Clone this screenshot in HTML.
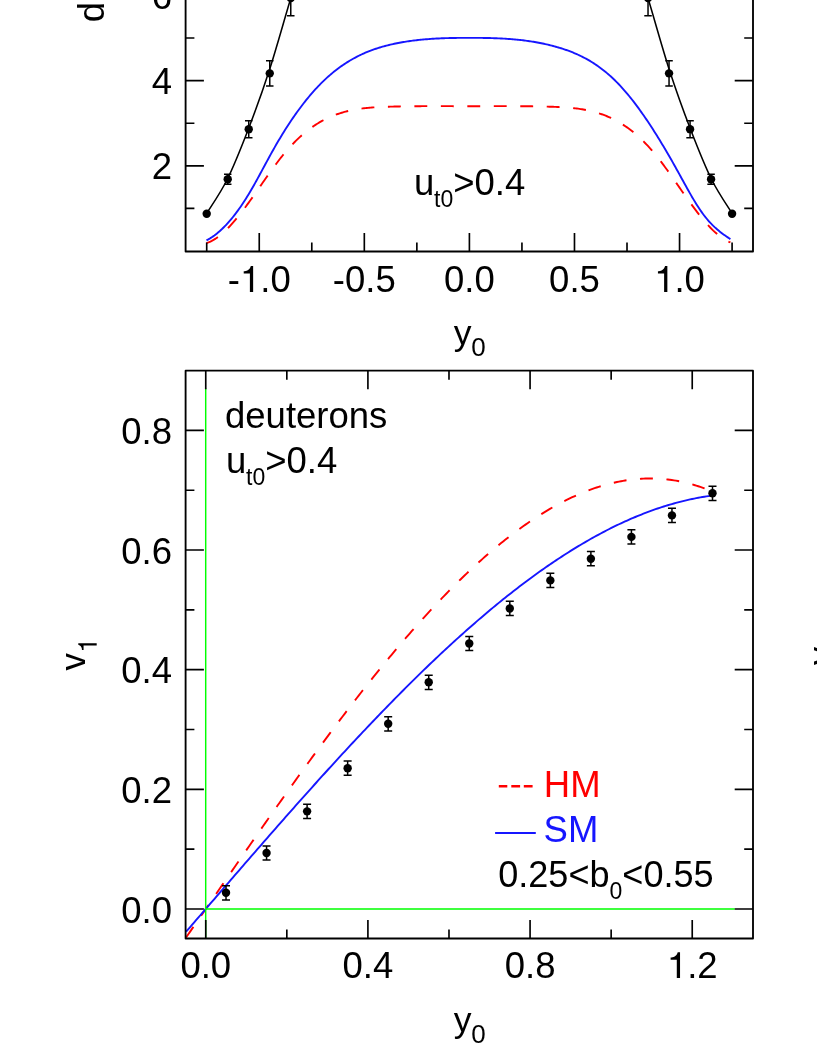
<!DOCTYPE html>
<html><head><meta charset="utf-8"><title>chart</title>
<style>html,body{margin:0;padding:0;background:#fff;overflow:hidden}svg{display:block;will-change:transform}text{font-family:"Liberation Sans",sans-serif;fill:#000}</style></head><body>
<svg width="817" height="1058" viewBox="0 0 817 1058">
<rect width="817" height="1058" fill="#fff"/>
<!-- top chart: model curves -->
<path d="M206.50,240.40 L207.81,239.70 L209.13,238.94 L210.44,238.14 L211.75,237.29 L213.07,236.39 L214.38,235.45 L215.69,234.45 L217.00,233.41 L218.32,232.32 L219.63,231.19 L220.94,230.01 L222.26,228.78 L223.57,227.50 L224.88,226.18 L226.20,224.81 L227.51,223.39 L228.82,221.93 L230.13,220.42 L231.45,218.86 L232.76,217.26 L234.07,215.61 L235.39,213.92 L236.70,212.18 L238.01,210.39 L239.33,208.56 L240.64,206.68 L241.95,204.75 L243.26,202.78 L244.58,200.77 L245.89,198.71 L247.20,196.60 L248.52,194.45 L249.83,192.25 L251.14,190.01 L252.46,187.74 L253.77,185.43 L255.08,183.10 L256.40,180.73 L257.71,178.35 L259.02,175.95 L260.33,173.53 L261.65,171.10 L262.96,168.67 L264.27,166.23 L265.59,163.80 L266.90,161.37 L268.21,158.95 L269.53,156.54 L270.84,154.15 L272.15,151.79 L273.46,149.44 L274.78,147.12 L276.09,144.84 L277.40,142.58 L278.72,140.34 L280.03,138.14 L281.34,135.96 L282.66,133.82 L283.97,131.70 L285.28,129.61 L286.59,127.54 L287.91,125.51 L289.22,123.50 L290.53,121.52 L291.85,119.57 L293.16,117.65 L294.47,115.75 L295.79,113.89 L297.10,112.05 L298.41,110.24 L299.73,108.45 L301.04,106.70 L302.35,104.97 L303.66,103.27 L304.98,101.60 L306.29,99.95 L307.60,98.34 L308.92,96.75 L310.23,95.19 L311.54,93.66 L312.86,92.15 L314.17,90.67 L315.48,89.23 L316.79,87.80 L318.11,86.41 L319.42,85.04 L320.73,83.70 L322.05,82.39 L323.36,81.11 L324.67,79.85 L325.99,78.62 L327.30,77.42 L328.61,76.25 L329.93,75.10 L331.24,73.97 L332.55,72.88 L333.86,71.80 L335.18,70.76 L336.49,69.73 L337.80,68.73 L339.12,67.76 L340.43,66.81 L341.74,65.88 L343.06,64.97 L344.37,64.09 L345.68,63.23 L346.99,62.39 L348.31,61.57 L349.62,60.77 L350.93,60.00 L352.25,59.24 L353.56,58.50 L354.87,57.79 L356.19,57.09 L357.50,56.41 L358.81,55.75 L360.12,55.11 L361.44,54.49 L362.75,53.89 L364.06,53.30 L365.38,52.73 L366.69,52.17 L368.00,51.64 L369.32,51.12 L370.63,50.61 L371.94,50.12 L373.26,49.64 L374.57,49.18 L375.88,48.74 L377.19,48.30 L378.51,47.88 L379.82,47.48 L381.13,47.08 L382.45,46.70 L383.76,46.34 L385.07,45.98 L386.39,45.63 L387.70,45.30 L389.01,44.98 L390.32,44.67 L391.64,44.36 L392.95,44.07 L394.26,43.79 L395.58,43.52 L396.89,43.25 L398.20,42.99 L399.52,42.75 L400.83,42.51 L402.14,42.27 L403.45,42.05 L404.77,41.83 L406.08,41.62 L407.39,41.42 L408.71,41.23 L410.02,41.04 L411.33,40.86 L412.65,40.68 L413.96,40.52 L415.27,40.35 L416.59,40.20 L417.90,40.05 L419.21,39.91 L420.52,39.77 L421.84,39.64 L423.15,39.52 L424.46,39.40 L425.78,39.29 L427.09,39.18 L428.40,39.08 L429.72,38.98 L431.03,38.89 L432.34,38.80 L433.65,38.72 L434.97,38.64 L436.28,38.57 L437.59,38.50 L438.91,38.44 L440.22,38.38 L441.53,38.32 L442.85,38.27 L444.16,38.22 L445.47,38.17 L446.78,38.13 L448.10,38.09 L449.41,38.06 L450.72,38.03 L452.04,38.00 L453.35,37.97 L454.66,37.95 L455.98,37.93 L457.29,37.91 L458.60,37.89 L459.92,37.88 L461.23,37.87 L462.54,37.86 L463.85,37.85 L465.17,37.85 L466.48,37.84 L467.79,37.84 L469.11,37.84 L470.42,37.84 L471.73,37.84 L473.05,37.84 L474.36,37.84 L475.67,37.85 L476.98,37.86 L478.30,37.87 L479.61,37.88 L480.92,37.89 L482.24,37.91 L483.55,37.93 L484.86,37.95 L486.18,37.97 L487.49,38.00 L488.80,38.03 L490.12,38.06 L491.43,38.10 L492.74,38.14 L494.05,38.18 L495.37,38.23 L496.68,38.28 L497.99,38.33 L499.31,38.39 L500.62,38.46 L501.93,38.52 L503.25,38.60 L504.56,38.67 L505.87,38.76 L507.18,38.84 L508.50,38.93 L509.81,39.03 L511.12,39.13 L512.44,39.24 L513.75,39.35 L515.06,39.47 L516.38,39.60 L517.69,39.73 L519.00,39.86 L520.31,40.01 L521.63,40.16 L522.94,40.31 L524.25,40.47 L525.57,40.64 L526.88,40.82 L528.19,41.00 L529.51,41.19 L530.82,41.39 L532.13,41.60 L533.45,41.81 L534.76,42.03 L536.07,42.26 L537.38,42.50 L538.70,42.74 L540.01,42.99 L541.32,43.26 L542.64,43.53 L543.95,43.80 L545.26,44.09 L546.58,44.39 L547.89,44.69 L549.20,45.01 L550.51,45.33 L551.83,45.67 L553.14,46.01 L554.45,46.36 L555.77,46.72 L557.08,47.10 L558.39,47.48 L559.71,47.87 L561.02,48.28 L562.33,48.69 L563.64,49.12 L564.96,49.56 L566.27,50.01 L567.58,50.48 L568.90,50.96 L570.21,51.46 L571.52,51.97 L572.84,52.49 L574.15,53.03 L575.46,53.59 L576.78,54.16 L578.09,54.76 L579.40,55.37 L580.71,55.99 L582.03,56.64 L583.34,57.30 L584.65,57.99 L585.97,58.69 L587.28,59.42 L588.59,60.17 L589.91,60.94 L591.22,61.73 L592.53,62.54 L593.84,63.38 L595.16,64.24 L596.47,65.12 L597.78,66.03 L599.10,66.96 L600.41,67.92 L601.72,68.91 L603.04,69.92 L604.35,70.95 L605.66,72.02 L606.97,73.11 L608.29,74.23 L609.60,75.38 L610.91,76.56 L612.23,77.77 L613.54,79.01 L614.85,80.28 L616.17,81.58 L617.48,82.92 L618.79,84.28 L620.11,85.68 L621.42,87.10 L622.73,88.55 L624.04,90.04 L625.36,91.55 L626.67,93.09 L627.98,94.66 L629.30,96.26 L630.61,97.88 L631.92,99.53 L633.24,101.21 L634.55,102.92 L635.86,104.65 L637.17,106.41 L638.49,108.19 L639.80,109.99 L641.11,111.83 L642.43,113.68 L643.74,115.56 L645.05,117.46 L646.37,119.39 L647.68,121.34 L648.99,123.31 L650.31,125.30 L651.62,127.31 L652.93,129.35 L654.24,131.40 L655.56,133.48 L656.87,135.58 L658.18,137.69 L659.50,139.83 L660.81,141.98 L662.12,144.15 L663.44,146.34 L664.75,148.55 L666.06,150.78 L667.37,153.02 L668.69,155.28 L670.00,157.55 L671.31,159.84 L672.63,162.15 L673.94,164.47 L675.25,166.81 L676.57,169.16 L677.88,171.52 L679.19,173.90 L680.50,176.29 L681.82,178.68 L683.13,181.07 L684.44,183.45 L685.76,185.83 L687.07,188.19 L688.38,190.53 L689.70,192.85 L691.01,195.14 L692.32,197.40 L693.64,199.62 L694.95,201.80 L696.26,203.93 L697.57,206.01 L698.89,208.03 L700.20,209.99 L701.51,211.89 L702.83,213.72 L704.14,215.47 L705.45,217.15 L706.77,218.76 L708.08,220.30 L709.39,221.78 L710.70,223.20 L712.02,224.56 L713.33,225.87 L714.64,227.12 L715.96,228.32 L717.27,229.48 L718.58,230.59 L719.90,231.66 L721.21,232.70 L722.52,233.70 L723.83,234.66 L725.15,235.60 L726.46,236.51 L727.77,237.40 L729.09,238.27 L730.40,239.12" fill="none" stroke="#1616ff" stroke-width="1.90" stroke-linejoin="round"/>
<path d="M206.50,243.08 L207.81,242.64 L209.13,242.12 L210.44,241.54 L211.75,240.90 L213.07,240.19 L214.38,239.41 L215.69,238.58 L217.00,237.68 L218.32,236.73 L219.63,235.72 L220.94,234.66 L222.26,233.55 L223.57,232.38 L224.88,231.16 L226.20,229.90 L227.51,228.59 L228.82,227.24 L230.13,225.85 L231.45,224.41 L232.76,222.94 L234.07,221.43 L235.39,219.89 L236.70,218.31 L238.01,216.70 L239.33,215.06 L240.64,213.39 L241.95,211.69 L243.26,209.97 L244.58,208.23 L245.89,206.46 L247.20,204.67 L248.52,202.87 L249.83,201.05 L251.14,199.22 L252.46,197.37 L253.77,195.51 L255.08,193.64 L256.40,191.77 L257.71,189.88 L259.02,188.00 L260.33,186.11 L261.65,184.22 L262.96,182.33 L264.27,180.45 L265.59,178.57 L266.90,176.69 L268.21,174.83 L269.53,172.98 L270.84,171.14 L272.15,169.31 L273.46,167.50 L274.78,165.71 L276.09,163.95 L277.40,162.20 L278.72,160.48 L280.03,158.78 L281.34,157.11 L282.66,155.48 L283.97,153.87 L285.28,152.30 L286.59,150.76 L287.91,149.26 L289.22,147.79 L290.53,146.35 L291.85,144.94 L293.16,143.56 L294.47,142.22 L295.79,140.91 L297.10,139.63 L298.41,138.38 L299.73,137.16 L301.04,135.97 L302.35,134.81 L303.66,133.68 L304.98,132.59 L306.29,131.52 L307.60,130.48 L308.92,129.47 L310.23,128.49 L311.54,127.54 L312.86,126.62 L314.17,125.73 L315.48,124.86 L316.79,124.03 L318.11,123.22 L319.42,122.43 L320.73,121.67 L322.05,120.94 L323.36,120.23 L324.67,119.55 L325.99,118.89 L327.30,118.26 L328.61,117.65 L329.93,117.06 L331.24,116.49 L332.55,115.95 L333.86,115.43 L335.18,114.93 L336.49,114.44 L337.80,113.98 L339.12,113.54 L340.43,113.12 L341.74,112.72 L343.06,112.33 L344.37,111.96 L345.68,111.61 L346.99,111.28 L348.31,110.96 L349.62,110.66 L350.93,110.37 L352.25,110.10 L353.56,109.85 L354.87,109.60 L356.19,109.38 L357.50,109.16 L358.81,108.96 L360.12,108.77 L361.44,108.59 L362.75,108.42 L364.06,108.26 L365.38,108.11 L366.69,107.98 L368.00,107.85 L369.32,107.73 L370.63,107.62 L371.94,107.52 L373.26,107.42 L374.57,107.33 L375.88,107.25 L377.19,107.18 L378.51,107.11 L379.82,107.04 L381.13,106.99 L382.45,106.93 L383.76,106.88 L385.07,106.83 L386.39,106.79 L387.70,106.74 L389.01,106.70 L390.32,106.66 L391.64,106.63 L392.95,106.59 L394.26,106.56 L395.58,106.53 L396.89,106.49 L398.20,106.47 L399.52,106.44 L400.83,106.41 L402.14,106.39 L403.45,106.37 L404.77,106.34 L406.08,106.32 L407.39,106.30 L408.71,106.29 L410.02,106.27 L411.33,106.26 L412.65,106.24 L413.96,106.23 L415.27,106.22 L416.59,106.21 L417.90,106.20 L419.21,106.19 L420.52,106.18 L421.84,106.17 L423.15,106.17 L424.46,106.16 L425.78,106.16 L427.09,106.15 L428.40,106.15 L429.72,106.15 L431.03,106.15 L432.34,106.15 L433.65,106.14 L434.97,106.14 L436.28,106.14 L437.59,106.15 L438.91,106.15 L440.22,106.15 L441.53,106.15 L442.85,106.15 L444.16,106.16 L445.47,106.16 L446.78,106.16 L448.10,106.16 L449.41,106.17 L450.72,106.17 L452.04,106.17 L453.35,106.18 L454.66,106.18 L455.98,106.18 L457.29,106.19 L458.60,106.19 L459.92,106.19 L461.23,106.20 L462.54,106.20 L463.85,106.20 L465.17,106.20 L466.48,106.20 L467.79,106.20 L469.11,106.20 L470.42,106.20 L471.73,106.20 L473.05,106.20 L474.36,106.20 L475.67,106.20 L476.98,106.20 L478.30,106.19 L479.61,106.19 L480.92,106.19 L482.24,106.19 L483.55,106.18 L484.86,106.18 L486.18,106.18 L487.49,106.17 L488.80,106.17 L490.12,106.17 L491.43,106.16 L492.74,106.16 L494.05,106.16 L495.37,106.15 L496.68,106.15 L497.99,106.15 L499.31,106.15 L500.62,106.15 L501.93,106.15 L503.25,106.14 L504.56,106.14 L505.87,106.14 L507.18,106.15 L508.50,106.15 L509.81,106.15 L511.12,106.15 L512.44,106.16 L513.75,106.16 L515.06,106.16 L516.38,106.17 L517.69,106.18 L519.00,106.18 L520.31,106.19 L521.63,106.20 L522.94,106.21 L524.25,106.22 L525.57,106.24 L526.88,106.25 L528.19,106.26 L529.51,106.28 L530.82,106.30 L532.13,106.32 L533.45,106.33 L534.76,106.36 L536.07,106.38 L537.38,106.40 L538.70,106.43 L540.01,106.45 L541.32,106.48 L542.64,106.51 L543.95,106.54 L545.26,106.58 L546.58,106.61 L547.89,106.65 L549.20,106.68 L550.51,106.72 L551.83,106.77 L553.14,106.81 L554.45,106.86 L555.77,106.91 L557.08,106.96 L558.39,107.02 L559.71,107.08 L561.02,107.15 L562.33,107.22 L563.64,107.30 L564.96,107.38 L566.27,107.47 L567.58,107.57 L568.90,107.68 L570.21,107.79 L571.52,107.92 L572.84,108.05 L574.15,108.19 L575.46,108.35 L576.78,108.51 L578.09,108.68 L579.40,108.87 L580.71,109.07 L582.03,109.28 L583.34,109.50 L584.65,109.74 L585.97,109.99 L587.28,110.25 L588.59,110.53 L589.91,110.83 L591.22,111.14 L592.53,111.46 L593.84,111.80 L595.16,112.16 L596.47,112.54 L597.78,112.94 L599.10,113.35 L600.41,113.78 L601.72,114.24 L603.04,114.71 L604.35,115.20 L605.66,115.71 L606.97,116.25 L608.29,116.80 L609.60,117.38 L610.91,117.98 L612.23,118.61 L613.54,119.26 L614.85,119.93 L616.17,120.62 L617.48,121.34 L618.79,122.09 L620.11,122.86 L621.42,123.66 L622.73,124.49 L624.04,125.34 L625.36,126.22 L626.67,127.13 L627.98,128.07 L629.30,129.03 L630.61,130.03 L631.92,131.05 L633.24,132.11 L634.55,133.19 L635.86,134.30 L637.17,135.45 L638.49,136.62 L639.80,137.83 L641.11,139.06 L642.43,140.33 L643.74,141.63 L645.05,142.96 L646.37,144.32 L647.68,145.71 L648.99,147.14 L650.31,148.60 L651.62,150.09 L652.93,151.61 L654.24,153.17 L655.56,154.76 L656.87,156.38 L658.18,158.03 L659.50,159.72 L660.81,161.43 L662.12,163.16 L663.44,164.92 L664.75,166.70 L666.06,168.50 L667.37,170.32 L668.69,172.15 L670.00,174.00 L671.31,175.86 L672.63,177.73 L673.94,179.61 L675.25,181.49 L676.57,183.38 L677.88,185.27 L679.19,187.15 L680.50,189.04 L681.82,190.93 L683.13,192.80 L684.44,194.68 L685.76,196.54 L687.07,198.39 L688.38,200.23 L689.70,202.06 L691.01,203.87 L692.32,205.66 L693.64,207.44 L694.95,209.19 L696.26,210.92 L697.57,212.63 L698.89,214.31 L700.20,215.97 L701.51,217.59 L702.83,219.18 L704.14,220.75 L705.45,222.27 L706.77,223.76 L708.08,225.21 L709.39,226.62 L710.70,228.00 L712.02,229.32 L713.33,230.61 L714.64,231.84 L715.96,233.03 L717.27,234.17 L718.58,235.25 L719.90,236.29 L721.21,237.26 L722.52,238.18 L723.83,239.05 L725.15,239.85 L726.46,240.59 L727.77,241.26 L729.09,241.87 L730.40,242.42" fill="none" stroke="#ff0000" stroke-width="1.90" stroke-dasharray="12.9,13.57" stroke-linejoin="round"/>
<!-- top chart: frame and ticks -->
<g stroke="#000" fill="none">
<path d="M185.60,-5 V251.50 H753.00 V-5" stroke-width="1.85" stroke-linejoin="round"/>
<path d="M206.71,251.50 v-9.10 M259.25,251.50 v-18.60 M311.79,251.50 v-9.10 M364.32,251.50 v-18.60 M416.86,251.50 v-9.10 M469.40,251.50 v-18.60 M521.94,251.50 v-9.10 M574.48,251.50 v-18.60 M627.01,251.50 v-9.10 M679.55,251.50 v-18.60 M732.09,251.50 v-9.10 M185.60,208.40 h8.80 M753.00,208.40 h-8.80 M185.60,165.80 h18.30 M753.00,165.80 h-18.30 M185.60,123.20 h8.80 M753.00,123.20 h-8.80 M185.60,80.60 h18.30 M753.00,80.60 h-18.30 M185.60,38.00 h8.80 M753.00,38.00 h-8.80 M185.60,-4.60 h18.30 M753.00,-4.60 h-18.30 " stroke-width="1.65"/>
</g>
<!-- top chart: data -->
<g stroke="#000" fill="none">
<path d="M206.40,213.80 C209.87,208.08 220.20,193.63 227.20,179.50 C234.20,165.37 241.35,147.30 248.40,129.00 C255.45,110.70 262.46,91.43 269.50,69.70 C276.54,47.97 283.63,21.88 290.66,-1.40 C297.69,-24.68 308.19,-58.57 311.70,-70.00" stroke-width="1.55"/>
<path d="M732.40,213.80 C728.93,208.08 718.60,193.63 711.60,179.50 C704.60,165.37 697.45,147.30 690.40,129.00 C683.35,110.70 676.34,91.43 669.30,69.70 C662.26,47.97 655.17,21.88 648.14,-1.40 C641.11,-24.68 630.61,-58.57 627.10,-70.00" stroke-width="1.55"/>
<path d="M227.73,184.20 V174.23 M223.98,184.20 h7.5 M223.98,174.23 h7.5 M711.07,184.20 V174.23 M707.32,184.20 h7.5 M707.32,174.23 h7.5 M248.74,137.68 V120.64 M244.99,137.68 h7.5 M244.99,120.64 h7.5 M690.06,137.68 V120.64 M686.31,137.68 h7.5 M686.31,120.64 h7.5 M269.76,85.97 V60.75 M266.01,85.97 h7.5 M266.01,60.75 h7.5 M669.04,85.97 V60.75 M665.29,85.97 h7.5 M665.29,60.75 h7.5 M290.77,15.85 V-19.94 M287.02,15.85 h7.5 M287.02,-19.94 h7.5 M648.03,15.85 V-19.94 M644.28,15.85 h7.5 M644.28,-19.94 h7.5 M311.79,-51.46 V-85.54 M308.04,-51.46 h7.5 M308.04,-85.54 h7.5 M627.01,-51.46 V-85.54 M623.26,-51.46 h7.5 M623.26,-85.54 h7.5 " stroke-width="1.5"/>
</g>
<g fill="#000">
<circle cx="206.71" cy="213.72" r="4.2"/>
<circle cx="732.09" cy="213.72" r="4.2"/>
<circle cx="227.73" cy="179.22" r="4.2"/>
<circle cx="711.07" cy="179.22" r="4.2"/>
<circle cx="248.74" cy="129.16" r="4.2"/>
<circle cx="690.06" cy="129.16" r="4.2"/>
<circle cx="269.76" cy="73.36" r="4.2"/>
<circle cx="669.04" cy="73.36" r="4.2"/>
<circle cx="290.77" cy="-2.04" r="4.2"/>
<circle cx="648.03" cy="-2.04" r="4.2"/>
<circle cx="311.79" cy="-68.50" r="4.2"/>
<circle cx="627.01" cy="-68.50" r="4.2"/>
</g>
<!-- top chart: labels -->
<g font-size="36.5">
<text x="227.81" y="291.90" font-size="36.5">-</text>
<path d="M253.14,291.90 L249.89,291.90 L249.89,273.47 L243.72,273.47 L243.72,271.24 C246.35,271.17 249.52,270.36 250.84,266.02 L253.14,266.02 Z" fill="#000"/>
<text x="260.25" y="291.90" font-size="36.5">.0</text>
<text x="364.32" y="291.9" text-anchor="middle">-0.5</text>
<text x="469.40" y="291.9" text-anchor="middle">0.0</text>
<text x="574.48" y="291.9" text-anchor="middle">0.5</text>
<path d="M667.36,291.90 L664.11,291.90 L664.11,273.47 L657.94,273.47 L657.94,271.24 C660.57,271.17 663.75,270.36 665.06,266.02 L667.36,266.02 Z" fill="#000"/>
<text x="674.48" y="291.90" font-size="36.5">.0</text>
<text x="172" y="179.00" text-anchor="end">2</text>
<text x="172" y="93.80" text-anchor="end">4</text>
<text x="172" y="8.60" text-anchor="end">6</text>
<text y="194.7"><tspan x="414.0">u</tspan><tspan font-size="23.0" x="434.0" dy="11.9">t0</tspan><tspan x="453.2" dy="-11.9">&gt;0.4</tspan></text>
<text y="344.5" font-size="35.5"><tspan x="453.7">y</tspan><tspan x="471.3" font-size="26" dy="11.5">0</tspan></text>
<text transform="translate(103.5,22.3) rotate(-90)" x="0" y="0">d</text>
</g>
<!-- bottom chart: model curves  v1 = a*y0 + b*y0^3 -->
<path d="M186.09,937.49 L188.12,934.54 L190.15,931.59 L192.19,928.64 L194.22,925.70 L196.25,922.74 L198.28,919.79 L200.32,916.84 L202.35,913.89 L204.38,910.94 L206.41,907.99 L208.45,905.04 L210.48,902.08 L212.51,899.13 L214.54,896.18 L216.58,893.23 L218.61,890.28 L220.64,887.33 L222.67,884.38 L224.71,881.44 L226.74,878.49 L228.77,875.55 L230.80,872.60 L232.84,869.66 L234.87,866.72 L236.90,863.78 L238.93,860.85 L240.97,857.91 L243.00,854.98 L245.03,852.05 L247.06,849.12 L249.09,846.20 L251.13,843.27 L253.16,840.35 L255.19,837.44 L257.22,834.52 L259.26,831.61 L261.29,828.70 L263.32,825.80 L265.35,822.90 L267.39,820.00 L269.42,817.11 L271.45,814.22 L273.48,811.33 L275.52,808.45 L277.55,805.57 L279.58,802.70 L281.61,799.83 L283.65,796.97 L285.68,794.11 L287.71,791.26 L289.74,788.41 L291.78,785.56 L293.81,782.73 L295.84,779.89 L297.87,777.06 L299.91,774.24 L301.94,771.42 L303.97,768.61 L306.00,765.81 L308.04,763.01 L310.07,760.22 L312.10,757.43 L314.13,754.65 L316.17,751.88 L318.20,749.11 L320.23,746.35 L322.26,743.60 L324.30,740.85 L326.33,738.12 L328.36,735.38 L330.39,732.66 L332.43,729.94 L334.46,727.24 L336.49,724.54 L338.52,721.84 L340.56,719.16 L342.59,716.48 L344.62,713.81 L346.65,711.15 L348.69,708.50 L350.72,705.86 L352.75,703.23 L354.78,700.60 L356.82,697.99 L358.85,695.38 L360.88,692.78 L362.91,690.19 L364.95,687.62 L366.98,685.05 L369.01,682.49 L371.04,679.94 L373.08,677.40 L375.11,674.87 L377.14,672.35 L379.17,669.85 L381.21,667.35 L383.24,664.86 L385.27,662.39 L387.30,659.92 L389.34,657.47 L391.37,655.02 L393.40,652.59 L395.43,650.17 L397.47,647.76 L399.50,645.36 L401.53,642.98 L403.56,640.61 L405.60,638.24 L407.63,635.89 L409.66,633.56 L411.69,631.23 L413.73,628.92 L415.76,626.62 L417.79,624.33 L419.82,622.06 L421.86,619.80 L423.89,617.55 L425.92,615.32 L427.95,613.10 L429.99,610.89 L432.02,608.69 L434.05,606.51 L436.08,604.35 L438.12,602.19 L440.15,600.05 L442.18,597.93 L444.21,595.82 L446.25,593.73 L448.28,591.64 L450.31,589.58 L452.34,587.53 L454.38,585.49 L456.41,583.47 L458.44,581.46 L460.47,579.47 L462.51,577.50 L464.54,575.54 L466.57,573.59 L468.60,571.67 L470.64,569.75 L472.67,567.86 L474.70,565.98 L476.73,564.11 L478.76,562.27 L480.80,560.44 L482.83,558.62 L484.86,556.83 L486.89,555.05 L488.93,553.28 L490.96,551.54 L492.99,549.81 L495.02,548.10 L497.06,546.41 L499.09,544.73 L501.12,543.07 L503.15,541.43 L505.19,539.81 L507.22,538.21 L509.25,536.62 L511.28,535.05 L513.32,533.50 L515.35,531.98 L517.38,530.46 L519.41,528.97 L521.45,527.50 L523.48,526.05 L525.51,524.61 L527.54,523.20 L529.58,521.80 L531.61,520.42 L533.64,519.07 L535.67,517.73 L537.71,516.41 L539.74,515.12 L541.77,513.84 L543.80,512.59 L545.84,511.35 L547.87,510.14 L549.90,508.94 L551.93,507.77 L553.97,506.62 L556.00,505.49 L558.03,504.38 L560.06,503.29 L562.10,502.23 L564.13,501.18 L566.16,500.16 L568.19,499.16 L570.23,498.18 L572.26,497.22 L574.29,496.29 L576.32,495.38 L578.36,494.49 L580.39,493.62 L582.42,492.77 L584.45,491.95 L586.49,491.15 L588.52,490.38 L590.55,489.63 L592.58,488.90 L594.62,488.19 L596.65,487.51 L598.68,486.85 L600.71,486.22 L602.75,485.61 L604.78,485.02 L606.81,484.46 L608.84,483.92 L610.88,483.41 L612.91,482.92 L614.94,482.46 L616.97,482.02 L619.01,481.61 L621.04,481.22 L623.07,480.85 L625.10,480.51 L627.14,480.20 L629.17,479.91 L631.20,479.65 L633.23,479.42 L635.27,479.21 L637.30,479.02 L639.33,478.87 L641.36,478.74 L643.40,478.63 L645.43,478.55 L647.46,478.50 L649.49,478.48 L651.53,478.48 L653.56,478.51 L655.59,478.56 L657.62,478.65 L659.66,478.76 L661.69,478.90 L663.72,479.07 L665.75,479.26 L667.79,479.48 L669.82,479.73 L671.85,480.01 L673.88,480.32 L675.92,480.65 L677.95,481.02 L679.98,481.41 L682.01,481.83 L684.05,482.28 L686.08,482.76 L688.11,483.27 L690.14,483.81 L692.18,484.37 L694.21,484.97 L696.24,485.60 L698.27,486.25 L700.31,486.94 L702.34,487.65 L704.37,488.40 L706.40,489.18 L708.44,489.98 L710.47,490.82 L712.50,491.69" fill="none" stroke="#ff0000" stroke-width="1.90" stroke-dasharray="12.9,13.57"/>
<path d="M186.09,931.74 L188.12,929.38 L190.15,927.03 L192.19,924.67 L194.22,922.32 L196.25,919.96 L198.28,917.61 L200.32,915.25 L202.35,912.89 L204.38,910.54 L206.41,908.18 L208.45,905.83 L210.48,903.47 L212.51,901.11 L214.54,898.76 L216.58,896.40 L218.61,894.05 L220.64,891.69 L222.67,889.34 L224.71,886.98 L226.74,884.63 L228.77,882.28 L230.80,879.93 L232.84,877.58 L234.87,875.23 L236.90,872.88 L238.93,870.53 L240.97,868.18 L243.00,865.84 L245.03,863.49 L247.06,861.15 L249.09,858.81 L251.13,856.47 L253.16,854.13 L255.19,851.79 L257.22,849.45 L259.26,847.12 L261.29,844.79 L263.32,842.46 L265.35,840.13 L267.39,837.80 L269.42,835.48 L271.45,833.16 L273.48,830.84 L275.52,828.52 L277.55,826.20 L279.58,823.89 L281.61,821.58 L283.65,819.27 L285.68,816.97 L287.71,814.66 L289.74,812.36 L291.78,810.07 L293.81,807.77 L295.84,805.48 L297.87,803.19 L299.91,800.90 L301.94,798.62 L303.97,796.34 L306.00,794.07 L308.04,791.79 L310.07,789.52 L312.10,787.26 L314.13,785.00 L316.17,782.74 L318.20,780.48 L320.23,778.23 L322.26,775.98 L324.30,773.74 L326.33,771.50 L328.36,769.26 L330.39,767.03 L332.43,764.81 L334.46,762.58 L336.49,760.36 L338.52,758.15 L340.56,755.94 L342.59,753.73 L344.62,751.53 L346.65,749.33 L348.69,747.14 L350.72,744.95 L352.75,742.77 L354.78,740.59 L356.82,738.42 L358.85,736.25 L360.88,734.09 L362.91,731.93 L364.95,729.78 L366.98,727.63 L369.01,725.49 L371.04,723.36 L373.08,721.23 L375.11,719.10 L377.14,716.98 L379.17,714.87 L381.21,712.76 L383.24,710.66 L385.27,708.56 L387.30,706.47 L389.34,704.39 L391.37,702.31 L393.40,700.23 L395.43,698.17 L397.47,696.11 L399.50,694.06 L401.53,692.01 L403.56,689.97 L405.60,687.93 L407.63,685.91 L409.66,683.89 L411.69,681.87 L413.73,679.87 L415.76,677.87 L417.79,675.87 L419.82,673.89 L421.86,671.91 L423.89,669.94 L425.92,667.97 L427.95,666.01 L429.99,664.06 L432.02,662.12 L434.05,660.19 L436.08,658.26 L438.12,656.34 L440.15,654.43 L442.18,652.52 L444.21,650.63 L446.25,648.74 L448.28,646.86 L450.31,644.98 L452.34,643.12 L454.38,641.26 L456.41,639.42 L458.44,637.58 L460.47,635.75 L462.51,633.92 L464.54,632.11 L466.57,630.30 L468.60,628.51 L470.64,626.72 L472.67,624.94 L474.70,623.17 L476.73,621.40 L478.76,619.65 L480.80,617.91 L482.83,616.17 L484.86,614.45 L486.89,612.73 L488.93,611.02 L490.96,609.33 L492.99,607.64 L495.02,605.96 L497.06,604.29 L499.09,602.63 L501.12,600.98 L503.15,599.34 L505.19,597.71 L507.22,596.09 L509.25,594.48 L511.28,592.88 L513.32,591.29 L515.35,589.71 L517.38,588.14 L519.41,586.59 L521.45,585.04 L523.48,583.50 L525.51,581.97 L527.54,580.45 L529.58,578.95 L531.61,577.45 L533.64,575.97 L535.67,574.49 L537.71,573.03 L539.74,571.58 L541.77,570.14 L543.80,568.71 L545.84,567.29 L547.87,565.88 L549.90,564.49 L551.93,563.10 L553.97,561.73 L556.00,560.37 L558.03,559.02 L560.06,557.68 L562.10,556.35 L564.13,555.04 L566.16,553.74 L568.19,552.44 L570.23,551.17 L572.26,549.90 L574.29,548.65 L576.32,547.40 L578.36,546.17 L580.39,544.96 L582.42,543.75 L584.45,542.56 L586.49,541.38 L588.52,540.21 L590.55,539.05 L592.58,537.91 L594.62,536.78 L596.65,535.67 L598.68,534.56 L600.71,533.47 L602.75,532.40 L604.78,531.33 L606.81,530.28 L608.84,529.24 L610.88,528.22 L612.91,527.21 L614.94,526.21 L616.97,525.23 L619.01,524.26 L621.04,523.30 L623.07,522.36 L625.10,521.43 L627.14,520.51 L629.17,519.61 L631.20,518.73 L633.23,517.85 L635.27,517.00 L637.30,516.15 L639.33,515.32 L641.36,514.51 L643.40,513.70 L645.43,512.92 L647.46,512.15 L649.49,511.39 L651.53,510.65 L653.56,509.92 L655.59,509.20 L657.62,508.51 L659.66,507.82 L661.69,507.15 L663.72,506.50 L665.75,505.86 L667.79,505.24 L669.82,504.63 L671.85,504.04 L673.88,503.47 L675.92,502.90 L677.95,502.36 L679.98,501.83 L682.01,501.32 L684.05,500.82 L686.08,500.34 L688.11,499.87 L690.14,499.42 L692.18,498.98 L694.21,498.57 L696.24,498.16 L698.27,497.78 L700.31,497.41 L702.34,497.06 L704.37,496.72 L706.40,496.40 L708.44,496.10 L710.47,495.81 L712.50,495.54" fill="none" stroke="#1616ff" stroke-width="1.90"/>
<!-- green zero lines -->
<path d="M205.70,388.52 V938.50 M205.05,908.95 H734.80" stroke="#00ff00" stroke-width="1.45" fill="none"/>
<!-- frame and ticks -->
<g stroke="#000" fill="none">
<rect x="185.60" y="370.65" width="567.40" height="567.85" stroke-width="1.85" stroke-linejoin="round"/>
<path d="M205.75,938.50 v-18.60 M205.75,370.65 v18.60 M286.83,938.50 v-9.00 M286.83,370.65 v9.00 M367.91,938.50 v-18.60 M367.91,370.65 v18.60 M448.99,938.50 v-9.00 M448.99,370.65 v9.00 M530.07,938.50 v-18.60 M530.07,370.65 v18.60 M611.15,938.50 v-9.00 M611.15,370.65 v9.00 M692.23,938.50 v-18.60 M692.23,370.65 v18.60 M185.60,908.95 h18.30 M753.00,908.95 h-18.30 M185.60,849.13 h8.80 M753.00,849.13 h-8.80 M185.60,789.31 h18.30 M753.00,789.31 h-18.30 M185.60,729.49 h8.80 M753.00,729.49 h-8.80 M185.60,669.67 h18.30 M753.00,669.67 h-18.30 M185.60,609.85 h8.80 M753.00,609.85 h-8.80 M185.60,550.03 h18.30 M753.00,550.03 h-18.30 M185.60,490.21 h8.80 M753.00,490.21 h-8.80 M185.60,430.39 h18.30 M753.00,430.39 h-18.30 " stroke-width="1.65"/>
</g>
<!-- data -->
<path d="M226.02,885.70 V899.90 M222.02,885.70 h8 M222.02,899.90 h8 M266.56,845.90 V860.10 M262.56,845.90 h8 M262.56,860.10 h8 M307.10,804.25 V818.45 M303.10,804.25 h8 M303.10,818.45 h8 M347.64,761.10 V775.30 M343.64,761.10 h8 M343.64,775.30 h8 M388.18,716.70 V730.90 M384.18,716.70 h8 M384.18,730.90 h8 M428.72,675.20 V689.40 M424.72,675.20 h8 M424.72,689.40 h8 M469.26,636.40 V650.60 M465.26,636.40 h8 M465.26,650.60 h8 M509.80,601.35 V615.55 M505.80,601.35 h8 M505.80,615.55 h8 M550.34,573.30 V587.50 M546.34,573.30 h8 M546.34,587.50 h8 M590.88,551.60 V565.80 M586.88,551.60 h8 M586.88,565.80 h8 M631.42,529.80 V544.00 M627.42,529.80 h8 M627.42,544.00 h8 M671.96,508.30 V522.50 M667.96,508.30 h8 M667.96,522.50 h8 M712.50,486.20 V500.40 M708.50,486.20 h8 M708.50,500.40 h8 " stroke="#000" stroke-width="1.5" fill="none"/>
<g fill="#000">
<circle cx="226.02" cy="892.80" r="4.2"/>
<circle cx="266.56" cy="853.00" r="4.2"/>
<circle cx="307.10" cy="811.35" r="4.2"/>
<circle cx="347.64" cy="768.20" r="4.2"/>
<circle cx="388.18" cy="723.80" r="4.2"/>
<circle cx="428.72" cy="682.30" r="4.2"/>
<circle cx="469.26" cy="643.50" r="4.2"/>
<circle cx="509.80" cy="608.45" r="4.2"/>
<circle cx="550.34" cy="580.40" r="4.2"/>
<circle cx="590.88" cy="558.70" r="4.2"/>
<circle cx="631.42" cy="536.90" r="4.2"/>
<circle cx="671.96" cy="515.40" r="4.2"/>
<circle cx="712.50" cy="493.30" r="4.2"/>
</g>
<!-- labels -->
<g font-size="36.5">
<text x="205.75" y="978.1" text-anchor="middle">0.0</text>
<text x="367.91" y="978.1" text-anchor="middle">0.4</text>
<text x="530.07" y="978.1" text-anchor="middle">0.8</text>
<path d="M680.04,978.10 L676.79,978.10 L676.79,959.67 L670.62,959.67 L670.62,957.44 C673.25,957.37 676.43,956.57 677.74,952.22 L680.04,952.22 Z" fill="#000"/>
<text x="687.16" y="978.10" font-size="36.5">.2</text>
<text x="172" y="922.55" text-anchor="end">0.0</text>
<text x="172" y="802.91" text-anchor="end">0.2</text>
<text x="172" y="683.27" text-anchor="end">0.4</text>
<text x="172" y="563.63" text-anchor="end">0.6</text>
<text x="172" y="443.99" text-anchor="end">0.8</text>
<text x="225" y="428">deuterons</text>
<text y="473.0"><tspan x="226.0">u</tspan><tspan font-size="23.0" x="246.0" dy="11.9">t0</tspan><tspan x="265.2" dy="-11.9">&gt;0.4</tspan></text>
<text x="543.8" y="796.9" style="fill:#ff0000">HM</text>
<text x="543.6" y="841.7" style="fill:#1616ff">SM</text>
<text y="886.5" font-size="36.1"><tspan x="498.2">0.25&lt;b</tspan><tspan font-size="23.0" dy="12.2">0</tspan><tspan dy="-12.2">&lt;0.55</tspan></text>
<text y="1031.5" font-size="35.5"><tspan x="453.7">y</tspan><tspan x="471.3" font-size="26" dy="11.5">0</tspan></text>
<g transform="translate(85.1,670.4) rotate(-90)"><text x="0" y="0" font-size="35">v</text><path d="M27.19,11.60 L24.87,11.60 L24.87,-1.53 L20.48,-1.53 L20.48,-3.12 C22.35,-3.17 24.61,-3.74 25.55,-6.83 L27.19,-6.83 Z" fill="#000"/></g>
<text transform="translate(833.5,664.9) rotate(-90)" x="0" y="0" font-size="36.5">v</text>
</g>
<!-- legend marks -->
<path d="M498.8,786.2 h8.5 M511.3,786.2 h8.8 M523.8,786.2 h8.8" stroke="#ff0000" stroke-width="2.4" fill="none"/>
<path d="M495.1,833 H535.8" stroke="#1616ff" stroke-width="2.0" fill="none"/>
</svg></body></html>
